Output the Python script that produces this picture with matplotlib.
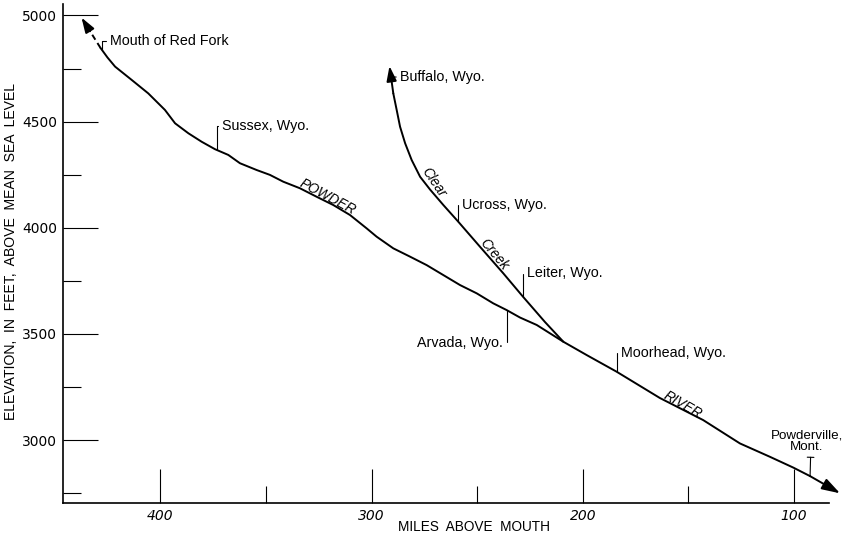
import numpy as np
import matplotlib
matplotlib.use("Agg")
import matplotlib.pyplot as plt
from matplotlib.ticker import MultipleLocator

plt.rcParams['font.family'] = ['Liberation Sans', 'DejaVu Sans']

# ---- data (miles above mouth, elevation in feet) ----
powder_miles = [428.3, 425.0, 421.4, 413.5, 405.7, 397.8, 393.0, 386.7, 380.4, 374.1,
                367.8, 362.3, 354.4, 348.1, 341.8, 333.9, 326.0, 318.1, 310.2, 302.3,
                297.6, 289.7, 281.8, 273.9, 266.0, 258.1, 250.2, 242.4, 236.0, 229.7,
                221.8, 209.2, 198.1, 184.0, 163.5, 143.0, 125.6, 111.4, 100.3, 92.4]
powder_elev = [4847, 4802, 4759, 4696, 4633, 4555, 4492, 4445, 4405, 4370,
               4343, 4304, 4272, 4249, 4217, 4186, 4146, 4107, 4060, 3997,
               3958, 3903, 3864, 3824, 3777, 3730, 3691, 3644, 3612, 3577,
               3542, 3463, 3400, 3322, 3198, 3094, 2984, 2921, 2870, 2830]
powder_up_tip = (437.3, 4990)     # arrow tip beyond Mouth of Red Fork
powder_down_tip = (78.2, 2749)    # arrow tip downstream of Powderville

clear_miles = [209.2, 217.9, 228.2, 237.6, 248.7, 258.9, 266.0, 272.3, 277.0,
               281.0, 284.1, 286.5, 288.1, 289.7]
clear_elev = [3463, 3556, 3674, 3785, 3911, 4028, 4107, 4180, 4240,
              4319, 4398, 4476, 4555, 4633]
clear_up_tip = (291.5, 4762)      # arrow tip toward Buffalo

# places: (name, miles, stream, label offset in pixels)
places_up = [("Mouth of Red Fork", 427.6, "p", (8, 9)),
             ("Sussex, Wyo.", 373.3, "p", (5, 24)),
             ("Ucross, Wyo.", 258.9, "c", (4, 17)),
             ("Leiter, Wyo.", 228.2, "c", (4, 24)),
             ("Moorhead, Wyo.", 184.0, "p", (4, 19))]
arvada = ("Arvada, Wyo.", 236.0)
powderville = ("Powderville,\nMont.", 92.4)
buffalo = ("Buffalo, Wyo.", 291.1, 4710)

x_major = [100, 200, 300, 400]
y_major = [3000, 3500, 4000, 4500, 5000]

fig = plt.figure(figsize=(8.45, 5.36), dpi=100)
ax = fig.add_axes([62.7/845, 1-503.3/536, (829.3-62.7)/845, (503.3-4)/536])
ax.set_xlim(446.2, 83.3)
ax.set_ylim(2702, 5054)

lw = 1.4
ax.plot(powder_miles, powder_elev, color='black', lw=lw, solid_capstyle='round',
        solid_joinstyle='round')
ax.plot(clear_miles, clear_elev, color='black', lw=lw, solid_capstyle='round',
        solid_joinstyle='round')

# dashed upstream end with arrowhead (Red Fork)
p0 = np.array([powder_miles[0], powder_elev[0]])
p1 = np.array(powder_up_tip)
mid = p0 + 0.55 * (p1 - p0)
ax.plot([p0[0], mid[0]], [p0[1], mid[1]], color='black', lw=lw, ls=(0, (3, 2)))
ax.annotate('', xy=tuple(p1), xytext=tuple(mid),
            arrowprops=dict(arrowstyle='-|>,head_length=0.9,head_width=0.3',
                            color='black', lw=lw, shrinkA=0, shrinkB=0),
            annotation_clip=False)
# Clear Creek arrow to Buffalo
ax.annotate('', xy=clear_up_tip, xytext=(clear_miles[-1], clear_elev[-1]),
            arrowprops=dict(arrowstyle='-|>,head_length=0.9,head_width=0.3',
                            color='black', lw=lw, shrinkA=0, shrinkB=0),
            annotation_clip=False)
# downstream arrow
ax.annotate('', xy=powder_down_tip, xytext=(powder_miles[-1], powder_elev[-1]),
            arrowprops=dict(arrowstyle='-|>,head_length=1.1,head_width=0.35',
                            color='black', lw=lw, shrinkA=0, shrinkB=0),
            annotation_clip=False)

pm = np.array(powder_miles[::-1]); pe = np.array(powder_elev[::-1])
cm = np.array(clear_miles); ce = np.array(clear_elev)

def on(m, s):
    if s == "p":
        return (m, float(np.interp(m, pm, pe)))
    return (m, float(np.interp(m, cm, ce)))

fs = 10.3
for name, m, s, off in places_up:
    ax.annotate(name, xy=on(m, s), xytext=off, textcoords='offset pixels',
                ha='left', va='center', fontsize=fs,
                arrowprops=dict(arrowstyle='-', color='black', lw=0.8,
                                shrinkA=1, shrinkB=0, relpos=(0, 0.5),
                                connectionstyle='angle,angleA=0,angleB=90,rad=0'))

ax.annotate(arvada[0], xy=on(arvada[1], "p"), xytext=(-4, -33), textcoords='offset pixels',
            ha='right', va='center', fontsize=fs,
            arrowprops=dict(arrowstyle='-', color='black', lw=0.8,
                            shrinkA=1, shrinkB=0, relpos=(1, 0.5),
                            connectionstyle='angle,angleA=0,angleB=90,rad=0'))

ax.annotate(powderville[0], xy=on(powderville[1], "p"), xytext=(-3, 23),
            textcoords='offset pixels', ha='center', va='bottom', fontsize=9.6,
            linespacing=1.0, annotation_clip=False,
            arrowprops=dict(arrowstyle=']-,widthA=0.25,lengthA=0', color='black', lw=0.8,
                            shrinkA=1, shrinkB=0, relpos=(0.55, 0)))

ax.annotate(buffalo[0], xy=(buffalo[1], buffalo[2]), xytext=(10, 0), textcoords='offset pixels',
            ha='left', va='center', fontsize=fs,
            arrowprops=dict(arrowstyle='-', color='black', lw=0.8, shrinkA=1, shrinkB=0,
                            relpos=(0, 0.5)))

# stream names
ax.text(320.6, 4146, "POWDER", rotation=-28, ha='center', va='center',
        rotation_mode='anchor', fontsize=9.8, style='italic')
ax.text(152.8, 3165, "RIVER", rotation=-30, ha='center', va='center',
        rotation_mode='anchor', fontsize=9.8, style='italic')
ax.text(270.8, 4213, "Clear", rotation=-56, ha='center', va='center',
        rotation_mode='anchor', fontsize=9.8, style='italic')
ax.text(241.9, 3875, "Creek", rotation=-50, ha='center', va='center',
        rotation_mode='anchor', fontsize=9.8, style='italic')

# axes styling
for sp in ['top', 'right']:
    ax.spines[sp].set_visible(False)
for sp in ['left', 'bottom']:
    ax.spines[sp].set_linewidth(1.2)

tick_font = dict(family='DejaVu Sans', size=10)
ax.set_xticks(x_major)
ax.set_xticklabels([str(v) for v in x_major], style='italic', **tick_font)
ax.xaxis.set_minor_locator(MultipleLocator(50))
ax.set_yticks(y_major)
ax.set_yticklabels([str(v) for v in y_major], **tick_font)
ax.yaxis.set_minor_locator(MultipleLocator(250))
ax.tick_params(axis='both', which='major', direction='in', width=0.8, pad=4)
ax.tick_params(axis='x', which='major', length=24.5)
ax.tick_params(axis='y', which='major', length=25)
ax.tick_params(axis='x', which='minor', direction='in', length=12.2, width=0.8)
ax.tick_params(axis='y', which='minor', direction='in', length=13, width=0.8)

fig.text(474/845, 1-527/536, "MILES  ABOVE  MOUTH", ha='center', va='center', fontsize=9.8)
fig.text(11/845, 1-251/536, "ELEVATION,  IN  FEET,  ABOVE  MEAN  SEA  LEVEL",
         rotation=90, ha='center', va='center', fontsize=10.1)

fig.savefig("out.png", dpi=100)
